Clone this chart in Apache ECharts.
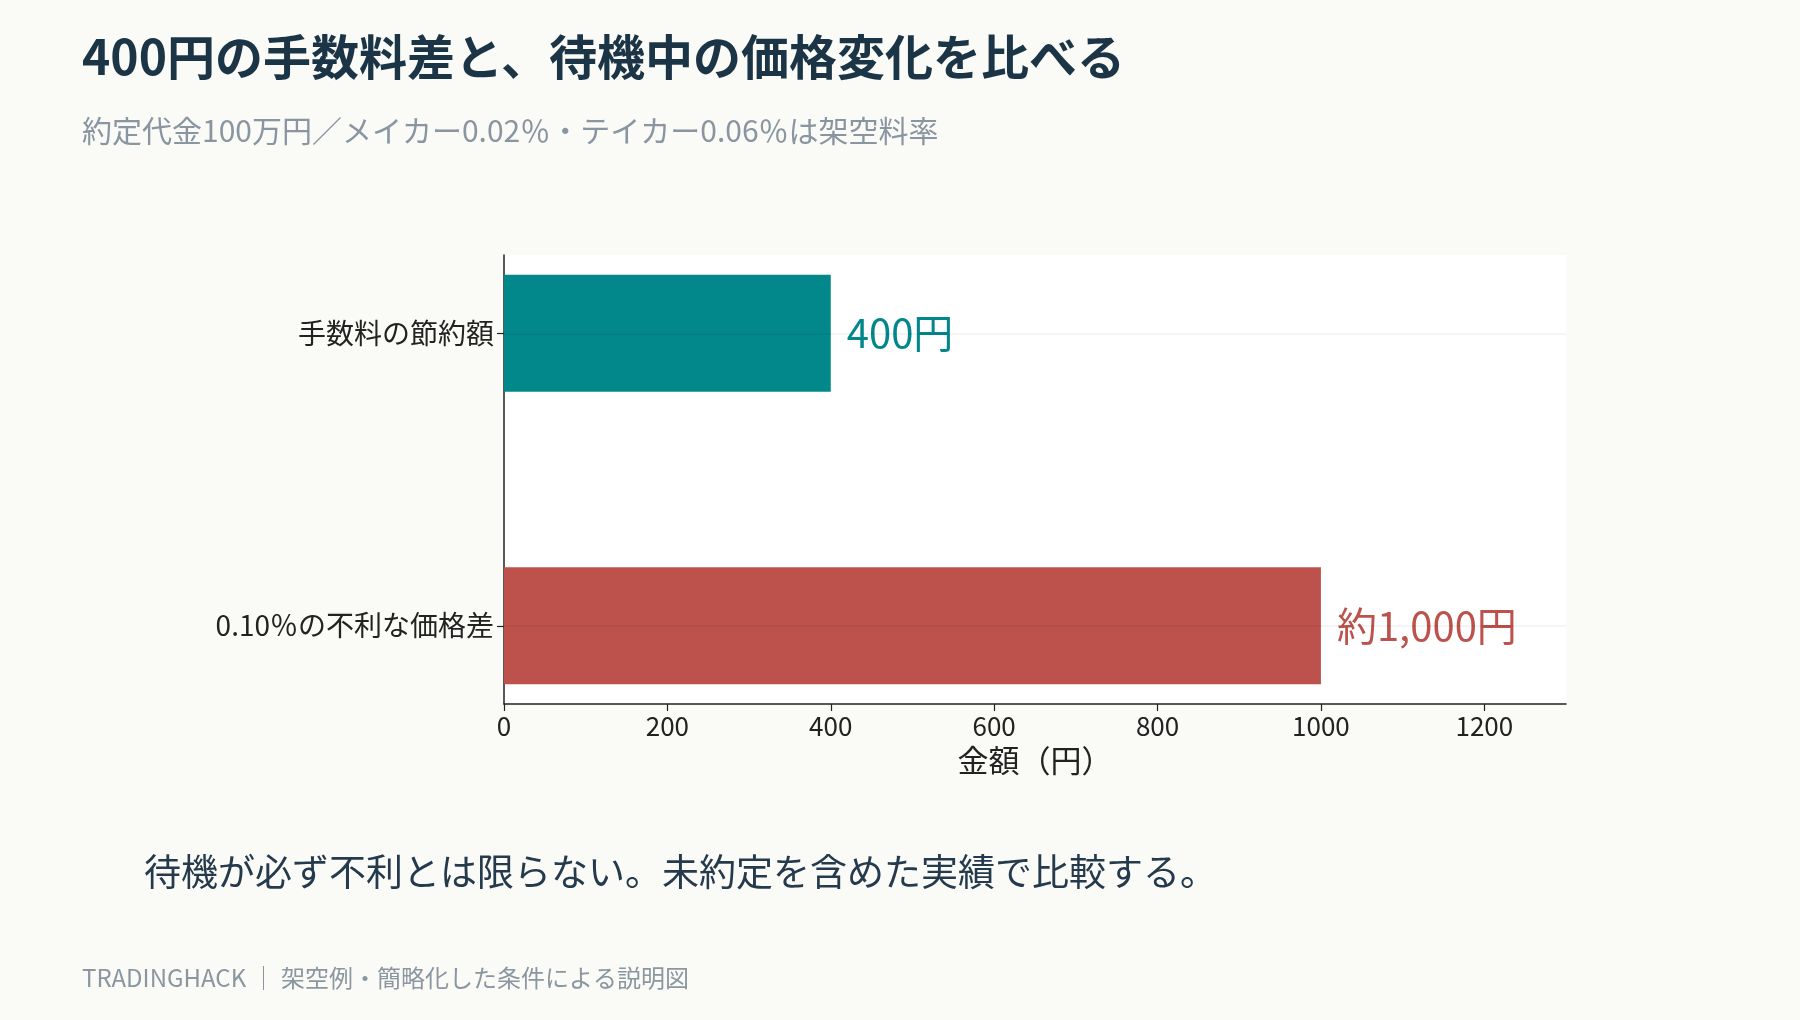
<!DOCTYPE html>
<html>
<head>
<meta charset="utf-8">
<script src="https://cdn.jsdelivr.net/npm/echarts@6/dist/echarts.min.js"></script>
<style>
  html, body { margin: 0; padding: 0; background: #fafaf7; }
  #chart { width: 1800px; height: 1020px; }
</style>
</head>
<body>
<div id="chart"></div>
<script>
// データ
var categories = ['手数料の節約額', '0.10％の不利な価格差'];
var values = [400, 1000];
var barLabels = ['400円', '約1,000円'];
var barColors = ['#02878a', '#bc524b'];
var xTicks = [0, 200, 400, 600, 800, 1000, 1200];
var xMin = 0, xMax = 1300;

var FONT = '"Noto Sans CJK JP", "Noto Sans", sans-serif';

// 表示用の枠(左・下の軸線と白背景)と、棒用のグリッド(カテゴリ帯)を分けている
var plotLeft = 504, plotRight = 234;

var chart = echarts.init(document.getElementById('chart'));
var option = {
    backgroundColor: '#fafaf7',
    textStyle: { fontFamily: FONT },
    title: [
        {
            text: '400円の手数料差と、待機中の価格変化を比べる',
            left: 82, top: 33, padding: 0,
            textStyle: { fontFamily: FONT, fontSize: 48, fontWeight: 'bold', color: '#1b3547' }
        },
        {
            text: '約定代金100万円／メイカー0.02％・テイカー0.06％は架空料率',
            left: 82, top: 116, padding: 0,
            textStyle: { fontFamily: FONT, fontSize: 30, fontWeight: 'normal', color: '#8996a1' }
        },
        {
            text: '待機が必ず不利とは限らない。未約定を含めた実績で比較する。',
            left: 144, top: 853, padding: 0,
            textStyle: { fontFamily: FONT, fontSize: 37, fontWeight: 'normal', color: '#253a4c' }
        },
        {
            text: 'TRADINGHACK ｜ 架空例・簡略化した条件による説明図',
            left: 82, top: 966, padding: 0,
            textStyle: { fontFamily: FONT, fontSize: 24, fontWeight: 'normal', color: '#8a96a0' }
        }
    ],
    grid: [
        { left: plotLeft, right: plotRight, top: 255, bottom: 316,
          show: true, backgroundColor: '#ffffff', borderWidth: 0 },
        { left: plotLeft, right: plotRight, top: 187, bottom: 248 }
    ],
    xAxis: [
        {
            gridIndex: 0, type: 'value', min: xMin, max: xMax,
            axisLine: { show: true, onZero: false, lineStyle: { color: '#222', width: 1.5 } },
            axisTick: { show: true, length: 7, customValues: xTicks, lineStyle: { color: '#222', width: 1.2 } },
            axisLabel: {
                fontSize: 26, color: '#222', margin: 9, fontFamily: FONT,
                customValues: xTicks,
                formatter: function (v) { return String(v); }
            },
            splitLine: { show: false },
            name: '金額（円）', nameLocation: 'middle', nameGap: 41,
            nameTextStyle: { fontSize: 31, color: '#222', fontFamily: FONT }
        },
        {
            gridIndex: 1, type: 'value', min: xMin, max: xMax, show: false,
            splitLine: { show: false }
        }
    ],
    yAxis: [
        {
            gridIndex: 0, type: 'value', min: -0.27, max: 1.27,
            axisLine: { show: true, onZero: false, lineStyle: { color: '#222', width: 1.5 } },
            axisTick: { show: false }, axisLabel: { show: false }, splitLine: { show: false }
        },
        {
            gridIndex: 1, type: 'category', data: categories, inverse: true,
            axisLine: { show: false },
            axisTick: { show: true, alignWithLabel: true, length: 7, lineStyle: { color: '#222', width: 1.2 } },
            axisLabel: { fontSize: 28, color: '#222', margin: 10, fontFamily: FONT },
            splitLine: { show: false }
        }
    ],
    series: [
        {
            type: 'bar',
            xAxisIndex: 1, yAxisIndex: 1,
            barWidth: 117,
            data: values.map(function (v, i) {
                return {
                    value: v,
                    itemStyle: { color: barColors[i] },
                    label: { color: barColors[i] }
                };
            }),
            label: {
                show: true, position: 'right', distance: 16,
                fontSize: 40, fontFamily: FONT,
                formatter: function (p) { return barLabels[p.dataIndex]; }
            },
            markLine: {
                silent: true, symbol: 'none',
                label: { show: false },
                lineStyle: { color: 'rgba(0,0,0,0.06)', width: 1.5, type: 'solid' },
                data: categories.map(function (c) { return { yAxis: c }; })
            }
        }
    ]
};
chart.setOption(option);
</script>
</body>
</html>
